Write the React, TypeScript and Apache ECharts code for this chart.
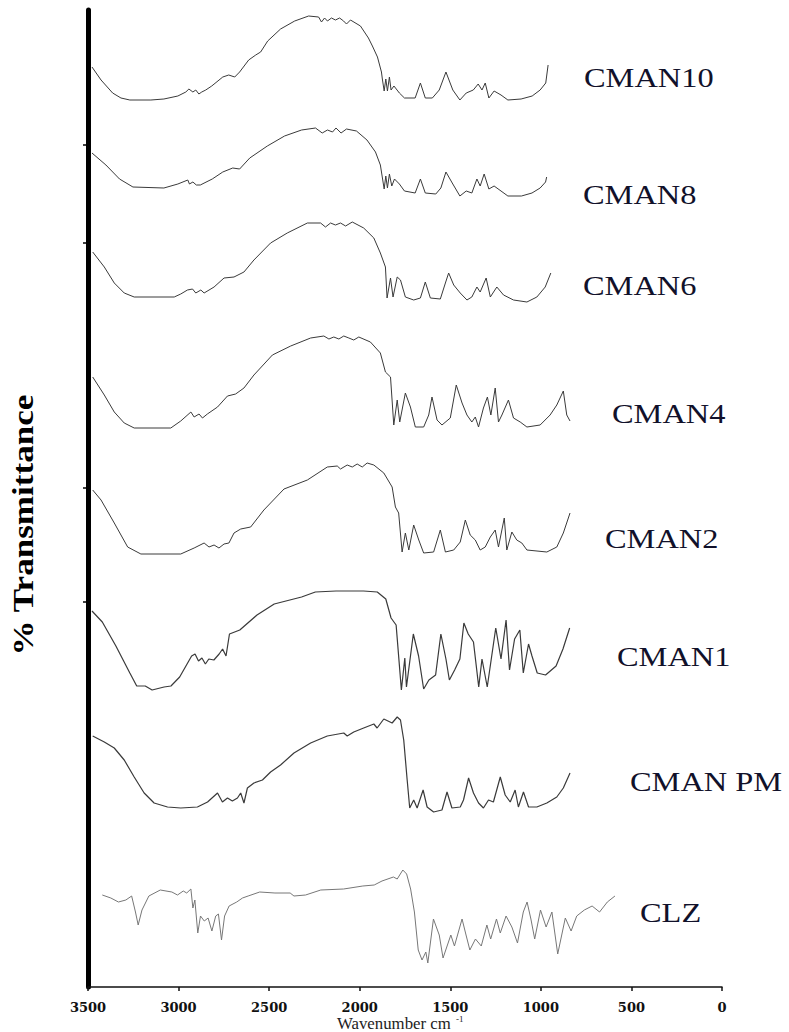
import React, { useEffect, useRef } from "react";
import * as echarts from "echarts";

// Wavenumber (cm-1) / relative transmittance (stacked, arbitrary units) pairs
const cman10: number[][] = [
  [3478, 920], [3428, 907], [3364, 894], [3318, 889], [3269, 887], [3153, 887], [3081, 888], [3004, 891],
  [2960, 895], [2943, 898], [2921, 895], [2905, 897], [2888, 893], [2872, 895], [2850, 897], [2817, 901],
  [2756, 910], [2723, 912], [2690, 910], [2663, 915], [2613, 927], [2574, 932], [2547, 935], [2508, 946],
  [2437, 958], [2359, 966], [2282, 971], [2227, 970], [2211, 965], [2194, 969], [2178, 966], [2156, 969],
  [2134, 967], [2111, 969], [2089, 966], [2073, 963], [2051, 967], [1996, 961], [1952, 949], [1930, 941],
  [1902, 930], [1880, 915], [1875, 908], [1865, 896], [1856, 908], [1847, 896], [1836, 910], [1827, 897],
  [1811, 901], [1781, 894], [1753, 889], [1694, 889], [1665, 904], [1638, 889], [1599, 889], [1561, 897],
  [1524, 915], [1486, 897], [1447, 887], [1412, 894], [1373, 897], [1346, 903], [1325, 897], [1307, 904],
  [1287, 889], [1258, 896], [1220, 892], [1182, 887], [1109, 888], [1048, 891], [1004, 897], [973, 904],
  [960, 922],
];

const cman8: number[][] = [
  [3478, 834], [3401, 822], [3326, 808], [3252, 800], [3081, 799], [3004, 803], [2949, 807], [2940, 803],
  [2921, 805], [2902, 802], [2880, 802], [2814, 808], [2756, 815], [2701, 819], [2663, 818], [2607, 829],
  [2510, 841], [2415, 851], [2321, 857], [2244, 859], [2207, 854], [2178, 857], [2150, 855], [2131, 859],
  [2103, 854], [2073, 858], [2018, 856], [1960, 847], [1913, 835], [1886, 822], [1865, 798], [1856, 811],
  [1847, 799], [1836, 813], [1823, 801], [1808, 808], [1781, 803], [1753, 796], [1694, 794], [1665, 808],
  [1638, 794], [1580, 793], [1552, 799], [1524, 815], [1486, 803], [1447, 791], [1412, 796], [1381, 794],
  [1353, 808], [1335, 801], [1313, 813], [1287, 798], [1258, 801], [1220, 796], [1182, 791], [1107, 791],
  [1049, 794], [1004, 799], [974, 805], [968, 810],
];

const cman6: number[][] = [
  [3474, 735], [3410, 720], [3355, 704], [3300, 694], [3245, 690], [3024, 690], [2988, 693], [2951, 697],
  [2923, 698], [2905, 694], [2877, 697], [2859, 694], [2804, 700], [2749, 709], [2694, 710], [2639, 715],
  [2584, 727], [2492, 744], [2400, 754], [2289, 764], [2216, 764], [2189, 760], [2161, 764], [2134, 762],
  [2106, 764], [2078, 761], [2041, 765], [1978, 759], [1922, 749], [1886, 734], [1858, 720], [1849, 689],
  [1830, 709], [1816, 690], [1793, 710], [1775, 707], [1748, 690], [1702, 687], [1665, 689], [1638, 705],
  [1610, 689], [1555, 688], [1527, 704], [1509, 714], [1481, 702], [1445, 694], [1408, 687], [1381, 690],
  [1353, 700], [1335, 695], [1302, 709], [1279, 690], [1243, 700], [1206, 692], [1151, 687], [1077, 685],
  [1022, 690], [976, 700], [945, 714],
];

const cman4: number[][] = [
  [3474, 610], [3410, 592], [3355, 575], [3300, 564], [3245, 559], [3043, 559], [2988, 566], [2932, 575],
  [2914, 570], [2887, 573], [2868, 569], [2841, 573], [2785, 580], [2730, 591], [2685, 593], [2639, 599],
  [2584, 612], [2482, 632], [2381, 641], [2271, 649], [2198, 651], [2170, 648], [2143, 650], [2115, 648],
  [2088, 651], [2060, 649], [2033, 647], [2005, 650], [1941, 645], [1886, 634], [1858, 615], [1830, 610],
  [1812, 562], [1793, 587], [1779, 565], [1748, 594], [1720, 580], [1693, 560], [1647, 560], [1619, 572],
  [1601, 590], [1573, 567], [1546, 562], [1500, 569], [1467, 602], [1435, 584], [1408, 572], [1381, 565],
  [1362, 570], [1344, 560], [1317, 579], [1295, 590], [1276, 572], [1252, 599], [1234, 565], [1215, 572],
  [1179, 587], [1151, 569], [1114, 565], [1077, 560], [1004, 562], [949, 572], [912, 582], [876, 596],
  [857, 572], [839, 566],
];

const cman2: number[][] = [
  [3474, 497], [3428, 487], [3355, 464], [3281, 440], [3208, 433], [2988, 433], [2914, 439], [2859, 444],
  [2832, 440], [2804, 442], [2777, 439], [2749, 443], [2722, 444], [2694, 454], [2657, 458], [2602, 460],
  [2529, 477], [2418, 498], [2289, 507], [2179, 520], [2124, 521], [2106, 518], [2069, 522], [2041, 520],
  [2014, 523], [1986, 520], [1959, 524], [1922, 522], [1867, 514], [1821, 500], [1803, 480], [1785, 474],
  [1766, 435], [1748, 454], [1729, 437], [1702, 462], [1674, 447], [1647, 434], [1592, 435], [1555, 457],
  [1527, 435], [1481, 437], [1445, 445], [1417, 467], [1390, 452], [1362, 447], [1335, 437], [1307, 440],
  [1279, 450], [1252, 457], [1234, 440], [1202, 469], [1188, 437], [1160, 455], [1133, 447], [1105, 444],
  [1077, 437], [967, 435], [912, 440], [876, 454], [839, 474],
];

const cman1: number[][] = [
  [3478, 376], [3421, 365], [3346, 341], [3269, 314], [3231, 301], [3184, 301], [3146, 297], [3080, 300],
  [3042, 301], [2994, 310], [2928, 331], [2909, 333], [2890, 326], [2871, 329], [2852, 323], [2833, 328],
  [2805, 327], [2776, 333], [2757, 338], [2738, 331], [2719, 353], [2662, 357], [2567, 372], [2472, 383],
  [2321, 390], [2245, 395], [2131, 396], [1979, 396], [1903, 395], [1856, 388], [1827, 369], [1799, 362],
  [1770, 297], [1751, 329], [1742, 300], [1704, 353], [1675, 331], [1647, 298], [1618, 307], [1581, 312],
  [1552, 353], [1524, 328], [1505, 307], [1476, 317], [1447, 328], [1425, 364], [1401, 353], [1372, 345],
  [1343, 300], [1325, 328], [1296, 300], [1249, 359], [1220, 328], [1192, 367], [1173, 317], [1145, 348],
  [1116, 357], [1097, 314], [1068, 343], [1049, 331], [1020, 314], [974, 312], [916, 321], [878, 338],
  [841, 359],
];

const cmanPM: number[][] = [
  [3474, 251], [3410, 245], [3355, 239], [3300, 227], [3245, 210], [3190, 194], [3135, 184], [3061, 180],
  [2988, 179], [2896, 180], [2840, 185], [2785, 194], [2758, 185], [2730, 189], [2703, 186], [2675, 189],
  [2657, 194], [2639, 184], [2620, 199], [2584, 204], [2537, 207], [2492, 215], [2437, 222], [2363, 234],
  [2271, 244], [2179, 251], [2088, 254], [2069, 251], [2033, 255], [1978, 259], [1922, 263], [1904, 259],
  [1867, 268], [1821, 264], [1793, 270], [1775, 267], [1757, 247], [1738, 207], [1724, 179], [1702, 187],
  [1683, 179], [1650, 197], [1628, 180], [1592, 175], [1546, 177], [1518, 195], [1491, 179], [1445, 180],
  [1427, 187], [1399, 209], [1372, 194], [1344, 184], [1317, 179], [1289, 187], [1262, 185], [1224, 210],
  [1197, 192], [1169, 185], [1142, 197], [1124, 180], [1096, 195], [1068, 180], [1022, 180], [967, 184],
  [912, 190], [876, 199], [839, 214],
];

const clz: number[][] = [
  [3421, 92], [3374, 89], [3332, 85], [3291, 87], [3259, 91], [3238, 75], [3223, 62], [3202, 77],
  [3164, 91], [3101, 97], [3037, 95], [3006, 92], [2974, 96], [2955, 94], [2932, 98], [2921, 79],
  [2910, 87], [2894, 54], [2879, 71], [2858, 66], [2837, 69], [2816, 56], [2795, 71], [2780, 73],
  [2763, 47], [2746, 71], [2721, 81], [2679, 85], [2647, 89], [2616, 91], [2552, 95], [2468, 94],
  [2384, 94], [2363, 91], [2299, 92], [2215, 97], [2089, 98], [1983, 101], [1920, 102], [1877, 106],
  [1814, 110], [1793, 108], [1762, 117], [1741, 113], [1719, 98], [1698, 75], [1677, 37], [1656, 27],
  [1635, 35], [1624, 24], [1593, 68], [1561, 52], [1540, 29], [1497, 52], [1477, 41], [1435, 68],
  [1413, 52], [1392, 37], [1361, 48], [1329, 41], [1298, 62], [1277, 48], [1245, 68], [1224, 54],
  [1192, 71], [1160, 60], [1129, 44], [1097, 75], [1076, 85], [1055, 68], [1034, 48], [1002, 77],
  [971, 60], [939, 75], [907, 33], [865, 69], [833, 56], [802, 71], [760, 77], [717, 81],
  [676, 75], [633, 85], [591, 91],
];

const seriesNames = ["CMAN10", "CMAN8", "CMAN6", "CMAN4", "CMAN2", "CMAN1", "CMAN PM", "CLZ"];
const seriesData = [cman10, cman8, cman6, cman4, cman2, cman1, cmanPM, clz];
const xTicks = { min: 0, max: 3500, interval: 500 };
const yTickValues = [842, 744, 499, 385];

const SERIF = "'Liberation Serif', 'Times New Roman', 'DejaVu Serif', serif";

export default function App() {
  const ref = useRef<HTMLDivElement>(null);

  useEffect(() => {
    if (!ref.current) return;
    const chart = echarts.init(ref.current, undefined, { renderer: "svg" });

    const labelPos: number[][] = [
      [584, 77], [583, 194], [583, 285], [612, 413], [605, 538], [617, 656], [630, 781], [640, 912],
    ];

    const graphics: any[] = seriesNames.map((n, i) => ({
      type: "text",
      x: labelPos[i][0],
      y: labelPos[i][1],
      scaleX: 1.2,
      style: {
        text: n,
        fontFamily: SERIF,
        fontSize: 27,
        fill: "#11112a",
        align: "left",
        verticalAlign: "middle",
      },
    }));

    graphics.push({
      type: "text",
      x: 23,
      y: 525,
      rotation: Math.PI / 2,
      scaleX: 1.17,
      style: {
        text: "% Transmittance",
        fontFamily: SERIF,
        fontWeight: "bold",
        fontSize: 30,
        fill: "#000",
        align: "center",
        verticalAlign: "middle",
      },
    });
    graphics.push({
      type: "text",
      x: 337,
      y: 1024,
      scaleX: 1.05,
      style: {
        text: "Wavenumber cm",
        fontFamily: SERIF,
        fontSize: 16,
        fill: "#222",
        align: "left",
        verticalAlign: "middle",
      },
    });
    graphics.push({
      type: "text",
      x: 456,
      y: 1019,
      style: {
        text: "-1",
        fontFamily: SERIF,
        fontSize: 9,
        fill: "#222",
        align: "left",
        verticalAlign: "middle",
      },
    });

    chart.setOption({
      animation: false,
      backgroundColor: "#fff",
      grid: { left: 88, right: 67, top: 10, bottom: 45, containLabel: false },
      xAxis: {
        type: "value",
        inverse: true,
        min: xTicks.min,
        max: xTicks.max,
        interval: xTicks.interval,
        splitLine: { show: false },
        axisLine: { show: true, lineStyle: { color: "#111", width: 1.5 } },
        axisTick: { show: true, length: 4, lineStyle: { color: "#111", width: 1.5 } },
        axisLabel: {
          margin: 14,
          color: "#111",
          fontFamily: "'DejaVu Serif', serif",
          fontWeight: "bold",
          fontSize: 13,
          formatter: (v: number) => String(v),
        },
      },
      yAxis: {
        type: "value",
        min: 0,
        max: 977,
        splitLine: { show: false },
        axisLine: { show: true, onZero: false, lineStyle: { color: "#000", width: 5 } },
        axisTick: {
          show: true,
          length: 5,
          customValues: yTickValues,
          lineStyle: { color: "#000", width: 1.5 },
        },
        axisLabel: { show: false },
      },
      graphic: graphics,
      series: seriesData.map((d, i) => ({
        name: seriesNames[i],
        type: "line",
        data: d,
        showSymbol: false,
        symbol: "none",
        smooth: false,
        silent: true,
        lineStyle: {
          color: i === 7 ? "#777" : "#3a3a3a",
          width: i === 5 || i === 6 ? 1.2 : 1,
        },
      })),
    });

    return () => chart.dispose();
  }, []);

  return (
    <div
      ref={ref}
      style={{ position: "absolute", left: 0, top: 0, width: 789, height: 1032, background: "#fff" }}
    />
  );
}
